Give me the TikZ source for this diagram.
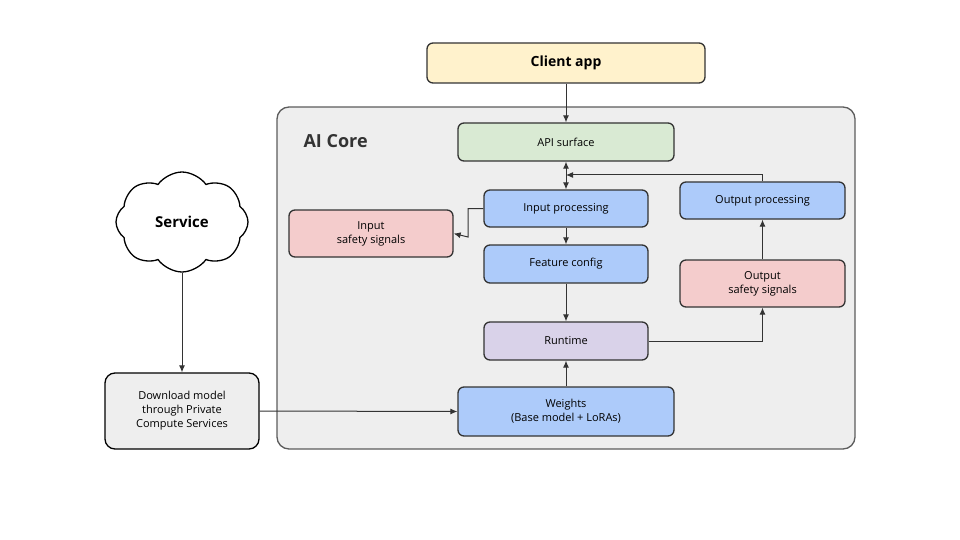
\documentclass[tikz,border=0pt]{standalone}
\usepackage{fontspec}
\setmainfont{Open Sans}
\usetikzlibrary{shapes.symbols,arrows.meta}
\definecolor{yel}{HTML}{FFF2CC}
\definecolor{grn}{HTML}{D9EAD3}
\definecolor{blu}{HTML}{ADCBFA}
\definecolor{pnk}{HTML}{F4CCCC}
\definecolor{prp}{HTML}{D9D2E9}
\definecolor{gry}{HTML}{EEEEEE}
\definecolor{ln}{HTML}{333333}
\begin{document}
\begin{tikzpicture}[x=1pt,y=-1pt,
  box/.style={draw=ln,line width=1.3pt,rounded corners=6pt,align=center,font=\fontsize{11}{14}\selectfont,inner sep=0pt},
  arr/.style={draw=ln,line width=1pt,-{Latex[length=7pt,width=6pt]}}]
\useasboundingbox (0,0) rectangle (960,540);
\node[box,fill=gry,rounded corners=12pt,minimum width=578pt,minimum height=342pt,draw=ln!80] (core) at (566,278) {};
\node[anchor=west,font=\fontsize{18}{20}\selectfont\bfseries,text=ln] (t) at (300,141) {AI Core};
\node[box,fill=yel,minimum width=278pt,minimum height=40pt,font=\fontsize{14}{16}\selectfont\bfseries] (client) at (566,63) {Client app};
\node[box,fill=grn,minimum width=216pt,minimum height=38pt] (api) at (566,142) {API surface};
\node[box,fill=blu,minimum width=164pt,minimum height=37pt] (inp) at (566,208.5) {Input processing};
\node[box,fill=blu,minimum width=164pt,minimum height=38pt] (feat) at (566,264) {Feature config};
\node[box,fill=prp,minimum width=164pt,minimum height=38pt] (run) at (566,341) {Runtime};
\node[box,fill=blu,minimum width=216pt,minimum height=49pt] (w) at (566,411.5) {Weights\\(Base model + LoRAs)};
\node[box,fill=pnk,minimum width=164pt,minimum height=47pt] (iss) at (371,233.5) {Input\\safety signals};
\node[box,fill=blu,minimum width=165pt,minimum height=37pt] (outp) at (762.5,200.5) {Output processing};
\node[box,fill=pnk,minimum width=165pt,minimum height=47pt] (oss) at (762.5,283.5) {Output\\safety signals};
\node[cloud,cloud puffs=8,cloud puff arc=110,aspect=1.4,draw=black,line width=1.3pt,fill=white,minimum width=132pt,minimum height=100pt,font=\fontsize{15}{17}\selectfont\bfseries] (svc) at (182,222) {Service};
\node[box,fill=gry,draw=black,rounded corners=10pt,minimum width=154pt,minimum height=76pt] (dl) at (182,411) {Download model\\through Private\\Compute Services};
\coordinate (j) at (566,175);
\draw[arr] (client) -- (api);
\draw[draw=ln,line width=1pt,{Latex[length=7pt,width=6pt]}-{Latex[length=7pt,width=6pt]}] (api) -- (inp);
\draw[arr] (outp.north) |- (j);
\draw[arr] (inp.west) -| (468,237) -- (iss.east);
\draw[arr] (inp) -- (feat);
\draw[arr] (feat) -- (run);
\draw[arr] (w) -- (run);
\draw[arr] (run.east) -| (oss.south);
\draw[arr] (oss) -- (outp);
\draw[arr] (svc.south) -- (dl.north);
\draw[arr] (dl.east) -- (w.west);
\end{tikzpicture}
\end{document}
